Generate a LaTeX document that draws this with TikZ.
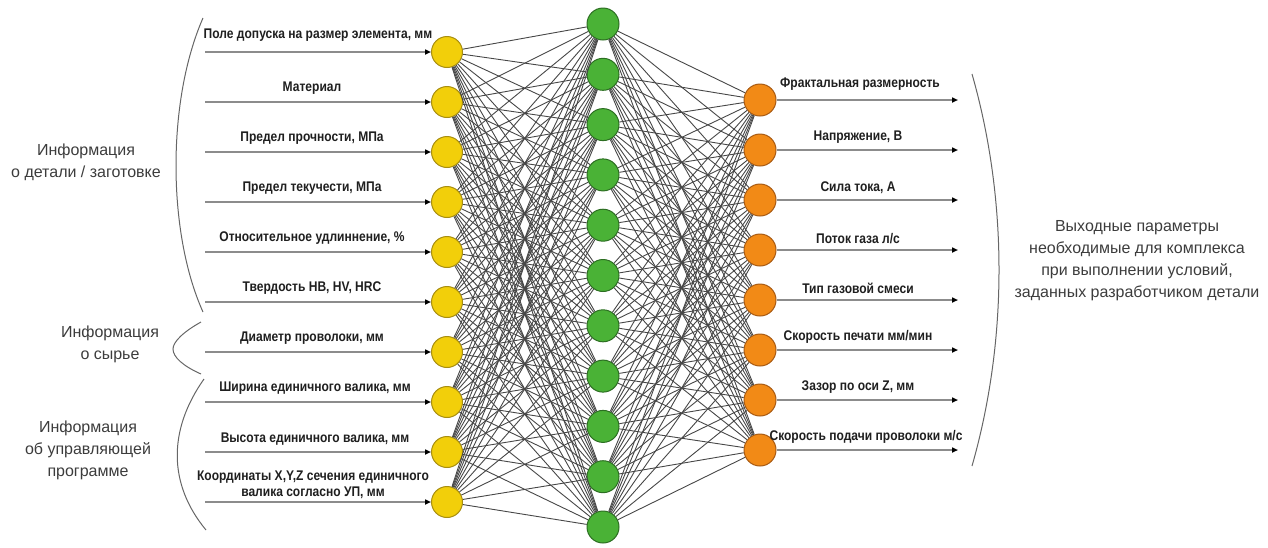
\documentclass[tikz,border=0pt]{standalone}
\usepackage{fontspec}
\setmainfont{Liberation Sans}
\newfontfamily\labfont[FakeStretch=0.86]{Liberation Sans}
\usetikzlibrary{arrows.meta}
\definecolor{yelfill}{HTML}{F2CF0A}
\definecolor{yeldraw}{HTML}{A88E10}
\definecolor{grnfill}{HTML}{4AB236}
\definecolor{grndraw}{HTML}{2C6E22}
\definecolor{orgfill}{HTML}{F28A16}
\definecolor{orgdraw}{HTML}{A85A12}
\definecolor{txtgray}{HTML}{3C3C3C}
\tikzset{
  neuron/.style={circle,minimum size=31pt,inner sep=0pt,line width=1pt},
  yeln/.style={neuron,fill=yelfill,draw=yeldraw},
  grnn/.style={neuron,fill=grnfill,draw=grndraw,minimum size=32pt},
  orgn/.style={neuron,fill=orgfill,draw=orgdraw,minimum size=32pt},
  conn/.style={draw=black!72,line width=0.9pt},
  iarrow/.style={draw=black!45,line width=1.6pt,-{Triangle[color=black,length=6pt,width=5pt]}},
  lab/.style={font=\labfont\bfseries\fontsize{14}{16}\selectfont,text=black!88,align=center,inner sep=0pt,anchor=south},
  grp/.style={font=\fontsize{16}{22}\selectfont,text=txtgray,align=center},
  brk/.style={draw=black!60,line width=1pt}
}
\begin{document}
\begin{tikzpicture}[x=1pt,y=-1pt]
\useasboundingbox (0,0) rectangle (1268,547);
% input layer
\foreach \i in {0,...,9}{
  \node[yeln] (y\i) at (447,{52+50*\i}) {};
  \coordinate (in\i) at (205,{52+50*\i});
}
% hidden layer
\foreach \j in {0,...,10}{
  \node[grnn] (g\j) at (603,{24+50.3*\j}) {};
}
% output layer
\foreach \k in {0,...,7}{
  \node[orgn] (o\k) at (760,{100+50*\k}) {};
  \coordinate (out\k) at (958,{100+50*\k});
}
% connections
\foreach \i in {0,...,9}{
  \foreach \j in {0,...,10}{
    \draw[conn] (y\i) -- (g\j);
  }
}
\foreach \j in {0,...,10}{
  \foreach \k in {0,...,7}{
    \draw[conn] (g\j) -- (o\k);
  }
}
% input arrows and labels
\foreach \i in {0,...,9}{
  \draw[iarrow] (in\i) -- (y\i);
}
\node[lab] (l0) at (318,42) {Поле допуска на размер элемента, мм};
\node[lab] (l1) at (312,95) {Материал};
\node[lab] (l2) at (312,145) {Предел прочности, МПа};
\node[lab] (l3) at (312,195) {Предел текучести, МПа};
\node[lab] (l4) at (312,245) {Относительное удлиннение, \%};
\node[lab] (l5) at (312,295) {Твердость HB, HV, HRC};
\node[lab] (l6) at (312,345) {Диаметр проволоки, мм};
\node[lab] (l7) at (315,395) {Ширина единичного валика, мм};
\node[lab] (l8) at (315,445) {Высота единичного валика, мм};
\node[lab] (l9) at (313,499) {Координаты X,Y,Z сечения единичного\\валика согласно УП, мм};
% output arrows and labels
\foreach \k in {0,...,7}{
  \draw[iarrow] (o\k) -- (out\k);
}
\node[lab] (r0) at (860,91) {Фрактальная размерность};
\node[lab] (r1) at (858,144) {Напряжение, В};
\node[lab] (r2) at (858,194) {Сила тока, А};
\node[lab] (r3) at (858,244) {Поток газа л/с};
\node[lab] (r4) at (858,294) {Тип газовой смеси};
\node[lab] (r5) at (858,344) {Скорость печати мм/мин};
\node[lab] (r6) at (858,394) {Зазор по оси Z, мм};
\node[lab] (r7) at (866,444) {Скорость подачи проволоки м/с};
% brackets
\draw[brk] (203,18) .. controls (167,100) and (167,232) .. (203,312);
\draw[brk] (201,322) .. controls (183,332) and (173,342) .. (173,349) .. controls (173,357) and (183,366) .. (201,374);
\draw[brk] (204,379) .. controls (168,430) and (168,484) .. (206,530);
\draw[brk] (972,74) .. controls (1008,200) and (1008,340) .. (972,466);
% group texts
\node[grp] (t1) at (86,162) {Информация\\о детали / заготовке};
\node[grp] (t2) at (110,344) {Информация\\о сырье};
\node[grp] (t3) at (88,450) {Информация\\об управляющей\\программе};
\node[grp] (t4) at (1137,261) {Выходные параметры\\необходимые для комплекса\\при выполнении условий,\\заданных разработчиком детали};
\end{tikzpicture}
\end{document}
